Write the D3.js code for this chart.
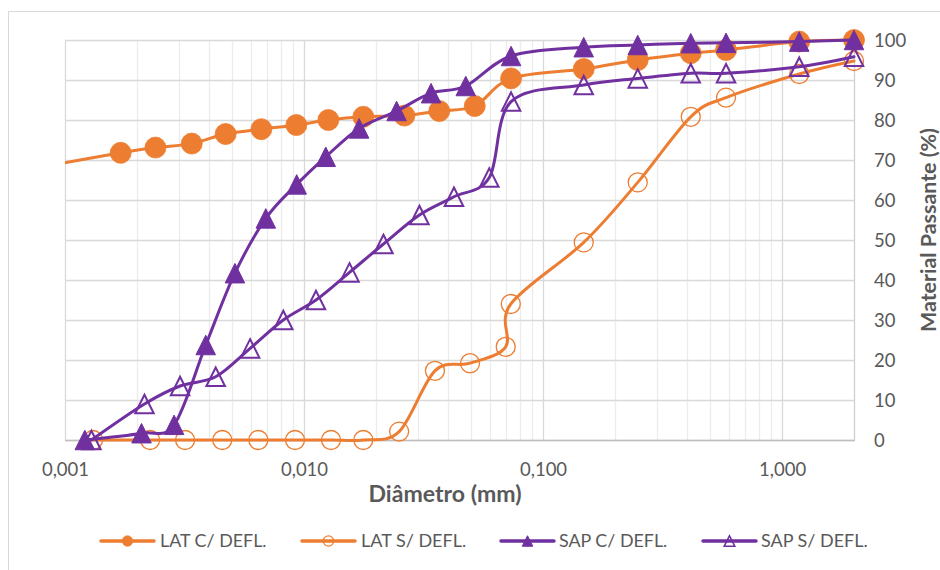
<!DOCTYPE html>
<html>
<head>
<meta charset="utf-8">
<script src="https://cdn.jsdelivr.net/npm/d3@7/dist/d3.min.js"></script>
<style>
  html, body { margin: 0; padding: 0; background: #fff; }
  svg { display: block; font-family: Lato, "Open Sans", sans-serif; }
</style>
</head>
<body>
<svg id="chart" width="940" height="570"></svg>
<script>
// Particle-size distribution curves (diameter in mm, percent passing)
const latComD = [0.0008, 0.00171, 0.00239, 0.00339, 0.0047, 0.00663, 0.00929, 0.01264, 0.0177, 0.0263, 0.0368, 0.0518, 0.0735, 0.148, 0.249, 0.415, 0.583, 1.18, 2.0];
const latComP = [68.3, 71.8, 73.1, 74.1, 76.5, 77.7, 78.75, 80.0, 80.8, 81.1, 82.25, 83.5, 90.4, 92.75, 95.0, 96.7, 97.5, 99.6, 100];

const latSemD = [0.00131, 0.00227, 0.00318, 0.00455, 0.00644, 0.00917, 0.01297, 0.0177, 0.025, 0.0353, 0.0495, 0.0698, 0.0733, 0.148, 0.249, 0.415, 0.583, 1.18, 2.0];
const latSemP = [0, 0, 0, 0, 0, 0, 0, 0, 2.1, 17.3, 19.2, 23.3, 34.0, 49.4, 64.4, 80.8, 85.6, 91.5, 94.75];

const sapComD = [0.00121, 0.00209, 0.00286, 0.00388, 0.00514, 0.00692, 0.00932, 0.01233, 0.017, 0.0244, 0.034, 0.0475, 0.0735, 0.148, 0.249, 0.415, 0.583, 1.18, 2.0];
const sapComP = [0, 1.7, 3.8, 23.75, 41.7, 55.4, 63.9, 70.8, 77.9, 82.25, 86.7, 88.5, 96.0, 98.2, 98.75, 99.2, 99.3, 99.6, 100];

const sapSemD = [0.00129, 0.00215, 0.00303, 0.00427, 0.00595, 0.00819, 0.01122, 0.0155, 0.0215, 0.0304, 0.0424, 0.0596, 0.0735, 0.148, 0.249, 0.415, 0.583, 1.18, 2.0];
const sapSemP = [0, 9.0, 13.5, 15.8, 22.9, 30.0, 35.0, 41.9, 49.0, 56.25, 60.8, 65.6, 84.6, 88.75, 90.4, 91.7, 91.7, 93.3, 95.8];

const seriesNames = ["LAT C/ DEFL.", "LAT S/ DEFL.", "SAP C/ DEFL.", "SAP S/ DEFL."];
const xTickValues = [0.001, 0.01, 0.1, 1];
const xTickLabels = ["0,001", "0,010", "0,100", "1,000"];
const yTickValues = [0, 10, 20, 30, 40, 50, 60, 70, 80, 90, 100];
const xTitle = "Diâmetro (mm)";
const yTitle = "Material Passante (%)";

const ORANGE = "#ED7D31";
const PURPLE = "#7030A0";
const TEXT = "#595959";

const series = [
  { name: seriesNames[0], d: latComD, p: latComP, color: ORANGE, marker: "circle", filled: true },
  { name: seriesNames[1], d: latSemD, p: latSemP, color: ORANGE, marker: "circle", filled: false },
  { name: seriesNames[2], d: sapComD, p: sapComP, color: PURPLE, marker: "triangle", filled: true },
  { name: seriesNames[3], d: sapSemD, p: sapSemP, color: PURPLE, marker: "triangle", filled: false }
];

const svg = d3.select("#chart");
const plot = { left: 65, right: 854, top: 40, bottom: 440 };

const x = d3.scaleLog().domain([0.001, 2]).range([plot.left, plot.right]);
const y = d3.scaleLinear().domain([0, 100]).range([plot.bottom, plot.top]);

// scale a text's font size so that it spans the given width
function fitWidth(sel, width) {
  const node = sel.node();
  const base = parseFloat(sel.style("font-size"));
  const w = node.getComputedTextLength();
  if (w > 0) sel.style("font-size", (base * width / w).toFixed(2) + "px");
  return sel;
}

// outer chart frame
svg.append("rect")
  .attr("x", 8.5).attr("y", 11.5).attr("width", 960).attr("height", 600)
  .attr("fill", "#fff").attr("stroke", "#d9d9d9").attr("stroke-width", 1);

// minor vertical gridlines (2..9 of each decade)
const minorTicks = [];
for (let e = -3; e <= 0; e++) {
  for (let m = 2; m <= 9; m++) {
    const v = m * Math.pow(10, e);
    if (v < 2) minorTicks.push(v);
  }
}
svg.append("g").selectAll("line").data(minorTicks).join("line")
  .attr("x1", d => Math.round(x(d)) + 0.5).attr("x2", d => Math.round(x(d)) + 0.5)
  .attr("y1", plot.top).attr("y2", plot.bottom)
  .attr("stroke", "#ececec").attr("stroke-width", 1.3);

// horizontal gridlines
svg.append("g").selectAll("line").data(yTickValues).join("line")
  .attr("x1", plot.left).attr("x2", plot.right)
  .attr("y1", d => Math.round(y(d)) + 0.5).attr("y2", d => Math.round(y(d)) + 0.5)
  .attr("stroke", "#d9d9d9").attr("stroke-width", 1.3);

// major vertical gridlines
svg.append("g").selectAll("line").data(xTickValues).join("line")
  .attr("x1", d => Math.round(x(d)) + 0.5).attr("x2", d => Math.round(x(d)) + 0.5)
  .attr("y1", plot.top).attr("y2", plot.bottom)
  .attr("stroke", "#d9d9d9").attr("stroke-width", 1.3);

// right edge and bottom axis line
svg.append("line")
  .attr("x1", plot.right + 0.5).attr("x2", plot.right + 0.5)
  .attr("y1", plot.top).attr("y2", plot.bottom)
  .attr("stroke", "#d0d0d0").attr("stroke-width", 1.3);
svg.append("line")
  .attr("x1", plot.left).attr("x2", plot.right + 1)
  .attr("y1", plot.bottom + 0.5).attr("y2", plot.bottom + 0.5)
  .attr("stroke", "#bfbfbf").attr("stroke-width", 1.3);

// x axis tick labels
const xAxis = d3.axisBottom(x).tickValues(xTickValues)
  .tickFormat((d, i) => xTickLabels[i]).tickSize(0).tickPadding(0);
const gx = svg.append("g").attr("transform", `translate(0,${plot.bottom})`).call(xAxis);
gx.select(".domain").remove();
gx.selectAll("text")
  .attr("y", 36).attr("dy", 0)
  .attr("fill", TEXT).style("font-size", "18.5px").style("font-family", "Lato, sans-serif");

// y axis tick labels on the right side, left-aligned
const yAxis = d3.axisRight(y).tickValues(yTickValues).tickSize(0).tickPadding(0);
const gy = svg.append("g").attr("transform", `translate(874,0)`).call(yAxis);
gy.select(".domain").remove();
gy.selectAll("text")
  .attr("x", 0).attr("dy", "0.36em").attr("text-anchor", "start")
  .attr("fill", TEXT).style("font-size", "18.5px").style("font-family", "Lato, sans-serif");

// axis titles
fitWidth(svg.append("text")
  .attr("x", 445).attr("y", 502)
  .attr("text-anchor", "middle").attr("fill", TEXT)
  .style("font-size", "19px").style("font-weight", "bold")
  .text(xTitle), 153);
fitWidth(svg.append("text")
  .attr("transform", "translate(936,230) rotate(-90)")
  .attr("text-anchor", "middle").attr("fill", TEXT)
  .style("font-size", "19px").style("font-weight", "bold")
  .text(yTitle), 204);

// clip for the lines (data outside the diameter range is cut at the axis)
svg.append("defs").append("clipPath").attr("id", "plotClip")
  .append("rect").attr("x", plot.left).attr("y", 0)
  .attr("width", 940 - plot.left).attr("height", 570);

const line = d3.line()
  .x(d => x(d[0])).y(d => y(d[1]))
  .curve(d3.curveCardinal.tension(0));

function trianglePath(size) {
  const h = size / 2;
  return `M0,${-h}L${h},${h}L${-h},${h}Z`;
}

function drawMarker(g, s, cx, cy, big) {
  if (s.marker === "circle") {
    const r = big ? (s.filled ? 10.5 : 9.5) : 5.2;
    g.append("circle").attr("cx", cx).attr("cy", cy).attr("r", r)
      .attr("fill", s.filled ? s.color : "none")
      .attr("stroke", s.color).attr("stroke-width", s.filled ? 0.8 : (big ? 1.3 : 1.2));
  } else {
    const size = big ? (s.filled ? 19.5 : 18.5) : 10.5;
    g.append("path").attr("d", trianglePath(size))
      .attr("transform", `translate(${cx},${cy})`)
      .attr("fill", s.filled ? s.color : "none")
      .attr("stroke", s.color).attr("stroke-width", s.filled ? 1 : (big ? 2 : 1.6))
      .attr("stroke-linejoin", "miter");
  }
}

series.forEach(s => {
  const pts = s.d.map((d, i) => [d, s.p[i]]);
  const g = svg.append("g");
  g.append("path").attr("d", line(pts))
    .attr("clip-path", "url(#plotClip)")
    .attr("fill", "none").attr("stroke", s.color)
    .attr("stroke-width", 3).attr("stroke-linecap", "round").attr("stroke-linejoin", "round");
  const mg = g.append("g");
  pts.filter(p => p[0] >= 0.001).forEach(p => drawMarker(mg, s, x(p[0]), y(p[1]), true));
});

// legend
const legendItems = [
  { lineX: 101, textX: 160, width: 106.7 },
  { lineX: 302, textX: 361, width: 105.3 },
  { lineX: 501, textX: 559, width: 108.3 },
  { lineX: 703, textX: 761, width: 106.7 }
];
const legendY = 541;
series.forEach((s, i) => {
  const li = legendItems[i];
  const g = svg.append("g");
  g.append("line")
    .attr("x1", li.lineX).attr("x2", li.lineX + 53)
    .attr("y1", legendY).attr("y2", legendY)
    .attr("stroke", s.color).attr("stroke-width", 3.5).attr("stroke-linecap", "round");
  drawMarker(g, s, li.lineX + 26.5, legendY, false);
  fitWidth(g.append("text").attr("x", li.textX).attr("y", legendY).attr("dy", "0.36em")
    .attr("fill", TEXT).style("font-size", "18px")
    .text(s.name), li.width);
});
</script>
</body>
</html>
